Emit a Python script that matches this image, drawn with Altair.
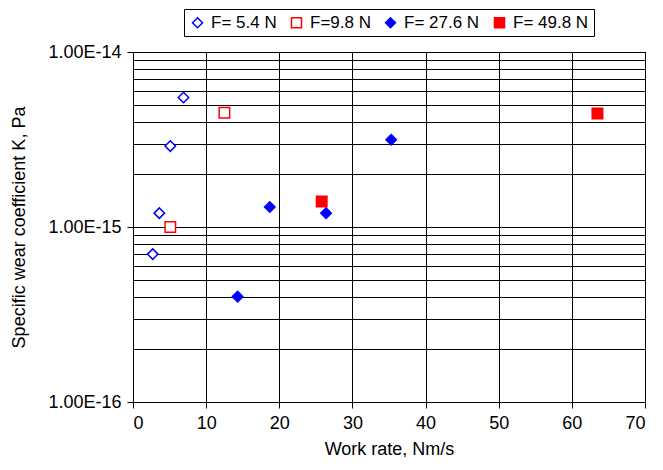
import altair as alt
import pandas as pd

series = ["F= 5.4 N", "F=9.8 N", "F= 27.6 N", "F= 49.8 N"]
x_54 = [6.9, 5.1, 3.6, 2.7]
y_54 = [5.5e-15, 2.9e-15, 1.2e-15, 7.0e-16]
x_98 = [12.5, 5.1]
y_98 = [4.5e-15, 1.0e-15]
x_276 = [18.7, 26.4, 14.3, 35.3]
y_276 = [1.3e-15, 1.2e-15, 4.0e-16, 3.15e-15]
x_498 = [25.8, 63.5]
y_498 = [1.4e-15, 4.45e-15]

x_ticks = [0, 10, 20, 30, 40, 50, 60, 70]
y_grid = [k * 10.0 ** e for e in (-16, -15) for k in range(1, 10)] + [1e-14]

rows = []
for name, xs, ys in zip(series, [x_54, x_98, x_276, x_498], [y_54, y_98, y_276, y_498]):
    for xv, yv in zip(xs, ys):
        rows.append({"series": name, "x": xv, "y": yv})
df = pd.DataFrame(rows)

FONT = "Liberation Sans"
decade_test = "abs(log(datum.value)/LN10 - round(log(datum.value)/LN10)) < 0.001"

legend = alt.Legend(
    title=None,
    orient="none",
    direction="horizontal",
    columns=4,
    legendX=51,
    legendY=-43,
    strokeColor="black",
    padding=5,
    columnPadding=11,
    labelFontSize=17,
    labelFont=FONT,
    labelColor="black",
    labelOffset=5,
    symbolSize=100,
    symbolStrokeWidth=1.5,
)

chart = alt.Chart(df).mark_point(size=110, strokeWidth=1.5, opacity=1).encode(
    x=alt.X(
        "x:Q",
        scale=alt.Scale(domain=[0, 70], nice=False),
        axis=alt.Axis(
            values=x_ticks,
            title="Work rate, Nm/s",
            grid=True,
            gridColor="black",
            gridWidth=1,
            gridOpacity=1,
            tickColor="black",
            tickSize=6,
            domainColor="black",
            labelFontSize=18,
            labelPadding=6,
            titleFontSize=18,
            titleFontWeight="normal",
            titlePadding=8,
            labelColor="black",
            titleColor="black",
        ),
    ),
    y=alt.Y(
        "y:Q",
        scale=alt.Scale(type="log", domain=[1e-16, 1e-14], nice=False),
        axis=alt.Axis(
            values=y_grid,
            title="Specific wear coefficient K, Pa",
            grid=True,
            gridColor="black",
            gridWidth=1,
            gridOpacity=1,
            tickColor="black",
            tickSize={"condition": {"test": decade_test, "value": 6}, "value": 0},
            domainColor="black",
            labelExpr="(" + decade_test + ") ? upper(format(datum.value, '.2e')) : ''",
            labelFontSize=18,
            labelPadding=6,
            titleFontSize=18,
            titleFontWeight="normal",
            titlePadding=19,
            labelColor="black",
            titleColor="black",
        ),
    ),
    shape=alt.Shape(
        "series:N",
        scale=alt.Scale(domain=series, range=["diamond", "square", "diamond", "square"]),
        legend=legend,
    ),
    stroke=alt.Stroke(
        "series:N",
        scale=alt.Scale(domain=series, range=["#0000FF", "#FF0000", "#0000FF", "#FF0000"]),
        legend=legend,
    ),
    fill=alt.Fill(
        "series:N",
        scale=alt.Scale(domain=series, range=["white", "white", "#0000FF", "#FF0000"]),
        legend=legend,
    ),
).properties(
    width=512,
    height=350,
    autosize=alt.AutoSizeParams(type="none"),
    padding={"left": 125, "top": 44, "right": 10, "bottom": 55},
).configure(
    font=FONT,
).configure_view(
    stroke="black",
    strokeWidth=1,
)

chart.save("out.html", embed_options={"renderer": "svg", "actions": False})
